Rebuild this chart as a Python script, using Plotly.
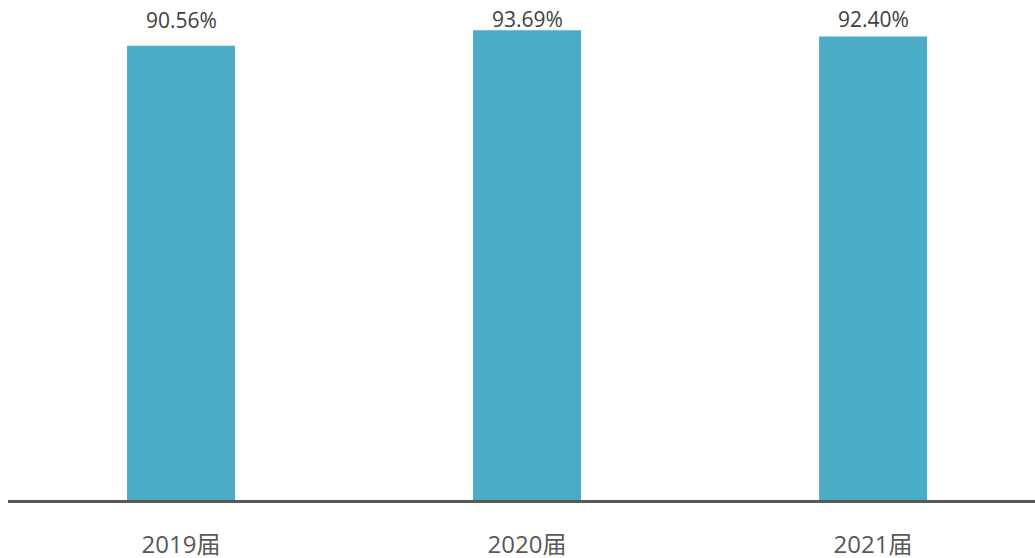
import plotly.graph_objects as go

categories = ["2019届", "2020届", "2021届"]
values = [90.56, 93.69, 92.40]
labels = ["90.56%", "93.69%", "92.40%"]

FONT = "Open Sans, Noto Sans CJK SC, sans-serif"
Y_MAX = 99.7
LABEL_GAP = 5.08     # label offset above the bar, in data units
LABEL_CAP = 95.97    # labels never rise above this level

fig = go.Figure(go.Bar(
    x=list(range(len(categories))),
    y=values,
    width=0.312,
    marker=dict(color="#4BACC6", line=dict(width=0)),
    cliponaxis=False,
    hoverinfo="skip",
))

for i, (v, t) in enumerate(zip(values, labels)):
    fig.add_annotation(
        x=i, y=min(v + LABEL_GAP, LABEL_CAP), text=t, showarrow=False,
        yanchor="middle",
        font=dict(size=21, color="#404040", family=FONT),
    )

fig.update_layout(
    width=1035, height=558,
    margin=dict(l=8, r=0, t=0, b=58, autoexpand=False),
    plot_bgcolor="white", paper_bgcolor="white",
    showlegend=False,
    font=dict(family=FONT, color="#595959"),
    xaxis=dict(
        range=[-0.5, 2.468],
        tickmode="array",
        tickvals=list(range(len(categories))),
        ticktext=categories,
        showgrid=False, zeroline=False,
        showline=True, linecolor="#595959", linewidth=2.5,
        ticks="", tickfont=dict(size=24, color="#595959"),
        ticklabelstandoff=21,
        automargin=False,
    ),
    yaxis=dict(range=[0, Y_MAX], visible=False, automargin=False),
)

fig.write_html(
    "out.html",
    config={"displayModeBar": False},
    post_script="document.body.style.margin='0';document.body.style.overflow='hidden';",
)
